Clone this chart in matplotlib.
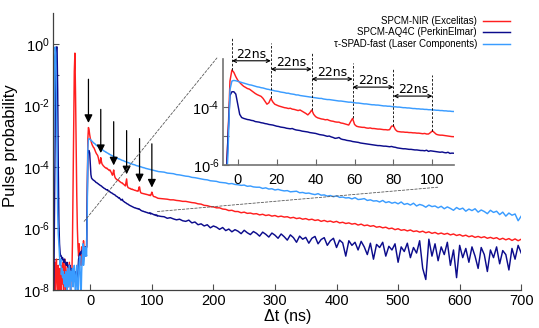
import numpy as np
import matplotlib
matplotlib.use("Agg")
import matplotlib.pyplot as plt
from matplotlib.patches import ConnectionPatch

plt.rcParams['font.family'] = ['Liberation Sans', 'DejaVu Sans']
plt.rcParams['mathtext.fontset'] = 'custom'
plt.rcParams['mathtext.rm'] = 'Liberation Sans'
plt.rcParams['mathtext.it'] = 'Liberation Sans:italic'
plt.rcParams['mathtext.bf'] = 'Liberation Sans:bold'

# time grid (ns): fine before/around the afterpulse peaks, coarser in the tail
t_pre = list(range(-60, -5))
t_mid = list(range(-5, 111))
t_tail = list(range(115, 701, 5))

# log10 of pulse probability
nir_pre = [-7.3, -7.9, -7.1, -8.2, -7.4, -7.0, -7.8, -8.3, -7.2, -7.6, -8.1,
           -7.3, -7.5, -8.4, -7.2, -7.8, -7.1, -8.2, -7.6, -7.0, -7.9, -8.3,
           -7.4, -7.2, -7.9, -7.5, -7.1, -7.7, -8.0, -7.4, -7.6, -6.5, -4.6,
           -2.5, -0.9, -0.3, -1.6, -3.3, -4.9, -6.0, -6.6, -6.9, -6.5, -7.0,
           -6.8, -7.2, -6.6, -6.9, -7.1, -6.4, -6.8, -6.6, -6.9, -6.7, -6.6]
nir_mid = [-5.0, -3.1, -2.72, -2.8, -2.95, -3.07, -3.15, -3.22, -3.28, -3.32,
           -3.36, -3.38, -3.43, -3.48, -3.53, -3.57, -3.6, -3.63, -3.7, -3.8,
           -3.9, -3.85, -3.7, -3.82, -3.9, -3.93, -3.96, -3.98, -4.0, -4.02,
           -4.03, -4.05, -4.04, -4.07, -4.08, -4.1, -4.12, -4.1, -4.14, -4.18,
           -4.22, -4.27, -4.2, -4.1, -4.25, -4.33, -4.37, -4.39, -4.41, -4.42,
           -4.44, -4.43, -4.46, -4.48, -4.49, -4.51, -4.52, -4.52, -4.55, -4.56,
           -4.58, -4.6, -4.62, -4.5, -4.39, -4.6, -4.66, -4.68, -4.69, -4.7,
           -4.7, -4.72, -4.73, -4.72, -4.74, -4.74, -4.75, -4.76, -4.76, -4.77,
           -4.78, -4.78, -4.79, -4.78, -4.66, -4.65, -4.78, -4.84, -4.85, -4.86,
           -4.86, -4.87, -4.87, -4.88, -4.88, -4.89, -4.89, -4.9, -4.9, -4.91,
           -4.92, -4.91, -4.93, -4.93, -4.88, -4.82, -4.88, -4.94, -4.96, -4.97,
           -4.97, -4.98, -4.99, -5.0, -5.01, -5.02]
nir_tail = [-5.03, -5.04, -5.05, -5.07, -5.07, -5.09, -5.1, -5.12, -5.12, -5.14,
            -5.16, -5.17, -5.2, -5.21, -5.25, -5.26, -5.29, -5.3, -5.33, -5.33,
            -5.37, -5.38, -5.42, -5.41, -5.45, -5.45, -5.49, -5.47, -5.51, -5.5,
            -5.53, -5.52, -5.56, -5.54, -5.58, -5.56, -5.6, -5.58, -5.62, -5.6,
            -5.63, -5.62, -5.66, -5.64, -5.68, -5.66, -5.7, -5.68, -5.72, -5.7,
            -5.74, -5.72, -5.77, -5.74, -5.78, -5.76, -5.8, -5.77, -5.82, -5.8,
            -5.84, -5.82, -5.86, -5.84, -5.89, -5.86, -5.91, -5.89, -5.93, -5.91,
            -5.96, -5.94, -5.98, -5.96, -6.01, -5.99, -6.04, -6.01, -6.06, -6.04,
            -6.08, -6.05, -6.1, -6.08, -6.12, -6.09, -6.14, -6.11, -6.16, -6.13,
            -6.18, -6.15, -6.19, -6.16, -6.21, -6.18, -6.23, -6.2, -6.25, -6.22,
            -6.27, -6.24, -6.29, -6.26, -6.3, -6.27, -6.32, -6.29, -6.33, -6.3,
            -6.36, -6.32, -6.37, -6.33, -6.39, -6.34, -6.4, -6.35]

aq4c_pre = [-8.5, -7.5, -5.0, -2.5, -0.5, -0.1, -0.1, -1.5, -4.0, -5.8, -6.5,
            -6.8, -6.9, -6.9, -7.0, -6.95, -7.05, -7.1, -7.0, -7.1, -7.15, -7.2,
            -7.1, -7.2, -7.25, -7.2, -7.3, -7.2, -7.35, -7.3, -7.4, -7.35, -7.45,
            -7.4, -7.5, -7.4, -7.55, -7.6, -7.7, -7.65, -7.3, -7.0, -6.9, -6.8,
            -6.85, -6.75, -6.8, -6.7, -6.75, -6.7, -6.65, -6.7, -6.6, -6.65, -6.6]
aq4c_mid = [-5.0, -3.6, -3.47, -3.47, -3.55, -3.9, -4.25, -4.36, -4.39, -4.41,
            -4.43, -4.44, -4.46, -4.47, -4.5, -4.51, -4.52, -4.54, -4.55, -4.57,
            -4.58, -4.6, -4.61, -4.62, -4.64, -4.66, -4.67, -4.69, -4.7, -4.71,
            -4.73, -4.74, -4.75, -4.74, -4.77, -4.79, -4.8, -4.81, -4.83, -4.84,
            -4.85, -4.86, -4.88, -4.89, -4.9, -4.91, -4.93, -4.95, -4.96, -4.97,
            -4.99, -5.01, -5.0, -5.03, -5.05, -5.08, -5.07, -5.05, -5.1, -5.12,
            -5.13, -5.15, -5.16, -5.17, -5.19, -5.2, -5.21, -5.22, -5.24, -5.25,
            -5.26, -5.27, -5.28, -5.29, -5.3, -5.31, -5.32, -5.33, -5.33, -5.34,
            -5.35, -5.35, -5.36, -5.37, -5.36, -5.38, -5.39, -5.41, -5.42, -5.43,
            -5.44, -5.44, -5.45, -5.46, -5.46, -5.47, -5.48, -5.48, -5.49, -5.5,
            -5.5, -5.51, -5.49, -5.53, -5.51, -5.52, -5.53, -5.54, -5.55, -5.56,
            -5.55, -5.57, -5.58, -5.56, -5.6, -5.59]
aq4c_tail = [-5.61, -5.62, -5.67, -5.65, -5.69, -5.72, -5.7, -5.75, -5.77, -5.73,
             -5.82, -5.79, -5.88, -5.85, -5.92, -5.88, -5.98, -5.92, -5.96, -6.03,
             -5.97, -6.07, -6.02, -6.11, -6.04, -6.09, -6.17, -6.06, -6.14, -6.2,
             -6.1, -6.16, -6.25, -6.12, -6.19, -6.28, -6.15, -6.22, -6.32, -6.18,
             -6.27, -6.38, -6.21, -6.3, -6.45, -6.25, -6.35, -6.29, -6.48, -6.32,
             -6.26, -6.5, -6.36, -6.3, -6.55, -6.4, -6.32, -6.62, -6.38, -6.47,
             -6.9, -6.4, -6.55, -6.45, -6.7, -6.42, -6.6, -6.85, -6.48, -7.0,
             -6.52, -6.62, -6.45, -6.9, -6.58, -6.7, -6.5, -7.1, -6.6, -6.75,
             -6.48, -6.95, -6.62, -6.8, -6.4, -7.3, -7.66, -6.35, -6.9, -6.5,
             -7.05, -6.6, -6.85, -6.45, -7.2, -6.7, -7.6, -6.55, -6.95, -6.65,
             -7.1, -6.6, -6.9, -7.3, -6.62, -6.85, -7.4, -6.7, -6.95, -6.6,
             -7.15, -6.72, -6.85, -7.35, -6.65, -7.0, -6.55, -6.8]

tspad_pre = [-4.8, -2.5, -0.5, -0.1, -0.3, -2.0, -4.0, -5.5, -6.2, -6.5, -6.9,
             -7.2, -7.0, -7.5, -7.3, -7.6, -7.4, -7.8, -7.5, -7.9, -7.4, -7.7,
             -8.2, -7.3, -7.6, -7.9, -7.2, -7.5, -8.1, -7.4, -7.7, -7.3, -7.9,
             -7.6, -7.2, -7.8, -8.3, -7.5, -7.2, -7.9, -8.4, -7.6, -7.1, -6.9,
             -7.8, -8.3, -7.4, -6.9, -6.5, -7.2, -7.0, -6.6, -6.9, -6.8, -6.9]
tspad_mid = [-5.6, -3.4, -3.1, -3.08, -3.09, -3.11, -3.13, -3.15, -3.17, -3.19,
             -3.21, -3.23, -3.24, -3.26, -3.28, -3.3, -3.31, -3.33, -3.34, -3.36,
             -3.38, -3.39, -3.41, -3.42, -3.44, -3.45, -3.46, -3.48, -3.49, -3.5,
             -3.52, -3.52, -3.54, -3.55, -3.56, -3.58, -3.58, -3.6, -3.61, -3.62,
             -3.63, -3.64, -3.65, -3.66, -3.67, -3.68, -3.69, -3.7, -3.7, -3.72,
             -3.73, -3.74, -3.74, -3.75, -3.76, -3.77, -3.78, -3.79, -3.79, -3.8,
             -3.81, -3.82, -3.83, -3.83, -3.84, -3.85, -3.86, -3.86, -3.87, -3.88,
             -3.89, -3.89, -3.9, -3.91, -3.92, -3.92, -3.93, -3.93, -3.94, -3.95,
             -3.96, -3.96, -3.97, -3.97, -3.98, -3.99, -3.99, -4.0, -4.0, -4.01,
             -4.02, -4.02, -4.03, -4.03, -4.04, -4.05, -4.05, -4.06, -4.06, -4.07,
             -4.07, -4.08, -4.08, -4.09, -4.09, -4.1, -4.1, -4.11, -4.11, -4.12,
             -4.12, -4.13, -4.13, -4.14, -4.14, -4.15]
tspad_tail = [-4.16, -4.17, -4.2, -4.21, -4.22, -4.25, -4.26, -4.28, -4.3, -4.31,
              -4.34, -4.35, -4.37, -4.39, -4.41, -4.42, -4.45, -4.46, -4.47, -4.5,
              -4.51, -4.52, -4.55, -4.54, -4.57, -4.58, -4.6, -4.59, -4.63, -4.62,
              -4.65, -4.66, -4.66, -4.7, -4.68, -4.72, -4.71, -4.75, -4.73, -4.76,
              -4.78, -4.77, -4.81, -4.8, -4.79, -4.84, -4.83, -4.86, -4.85, -4.88,
              -4.9, -4.87, -4.92, -4.91, -4.95, -4.93, -4.97, -4.94, -4.99, -4.98,
              -5.01, -5.0, -5.04, -5.0, -5.06, -5.05, -5.03, -5.09, -5.07, -5.11,
              -5.1, -5.14, -5.09, -5.16, -5.13, -5.18, -5.15, -5.2, -5.14, -5.22,
              -5.19, -5.24, -5.18, -5.27, -5.22, -5.25, -5.31, -5.24, -5.29, -5.27,
              -5.33, -5.28, -5.36, -5.3, -5.35, -5.41, -5.32, -5.38, -5.34, -5.44,
              -5.37, -5.42, -5.36, -5.47, -5.4, -5.45, -5.52, -5.41, -5.48, -5.44,
              -5.55, -5.47, -5.6, -5.5, -5.57, -5.53, -5.75, -5.6]

labels = ["SPCM-NIR (Excelitas)", "SPCM-AQ4C (PerkinElmar)", "τ-SPAD-fast (Laser Components)"]
colors = ["#ff1f1f", "#0c0c8c", "#3a9cff"]

# afterpulse peaks of the SPCM-NIR trace (ns)
peak_t = [-3, 17, 38, 59, 80, 100]
gap_label = "22ns"
# annotation heights in the inset (log10)
line_top = [-1.62, -1.78, -2.14, -2.48, -2.66, -2.90]
gap_arrow_y = [-2.40, -2.69, -3.03, -3.31, -3.62]


def pow_label(e):
    # 10^e with a short hyphen for the sign, as in the original
    if e < 0:
        return r'$\mathregular{10^{\text{-}%d}}$' % (-e)
    return r'$\mathregular{10^{%d}}$' % e


t = np.array(t_pre + t_mid + t_tail)
series = [10 ** np.array(nir_pre + nir_mid + nir_tail),
          10 ** np.array(aq4c_pre + aq4c_mid + aq4c_tail),
          10 ** np.array(tspad_pre + tspad_mid + tspad_tail)]
nir = series[0]
peak_v = [nir[list(t).index(p)] for p in peak_t]

fig = plt.figure(figsize=(5.39, 3.28), dpi=100)
ax = fig.add_axes([0.099, 0.116, 0.868, 0.844])

handles = []
for y, c, lab in zip(series, colors, labels):
    h, = ax.plot(t, y, color=c, lw=1.05, label=lab)
    handles.append(h)

ax.set_yscale('log')
ax.set_xlim(-60, 700)
ax.set_ylim(1e-8, 10)
ax.set_xticks(range(0, 701, 100))
ax.set_yticks([10.0 ** e for e in [-8, -6, -4, -2, 0]])
ax.set_yticklabels([pow_label(e) for e in [-8, -6, -4, -2, 0]])
ax.set_yticks([1e-7, 1e-5, 1e-3, 1e-1], minor=True)
ax.yaxis.set_minor_formatter(plt.NullFormatter())
ax.tick_params(which='both', direction='in', length=4, width=0.8, color='0.3',
               labelsize=10.5)
ax.tick_params(axis='y', pad=2.5)
ax.tick_params(axis='x', pad=3)
for s in ['top', 'right']:
    ax.spines[s].set_visible(False)
for s in ['left', 'bottom']:
    ax.spines[s].set_color('0.25')
    ax.spines[s].set_linewidth(0.9)

ax.set_ylabel('Pulse probability', fontsize=12)
ax.yaxis.set_label_coords(-0.076, 0.52)
ax.set_xlabel('Δt (ns)', fontsize=11.5)
ax.xaxis.set_label_coords(0.5, -0.07)

# arrows pointing at the afterpulse peaks
for p, v in zip(peak_t, peak_v):
    ax.annotate('', xy=(p, v * 10 ** 0.15), xytext=(p, v * 10 ** 1.57),
                arrowprops=dict(arrowstyle='-|>', color='k', lw=0.9,
                                mutation_scale=12, shrinkA=0, shrinkB=0))

ax.legend(handles, labels, loc='upper right', bbox_to_anchor=(510 / 539, 1 - 16 / 328),
          bbox_transform=fig.transFigure, frameon=False, markerfirst=False,
          fontsize=7, handlelength=2.8, handletextpad=0.6, labelspacing=0.15,
          borderpad=0, borderaxespad=0)

# inset
axin = fig.add_axes([0.414, 0.497, 0.428, 0.323])
for y, c in zip(series, colors):
    axin.plot(t, y, color=c, lw=1.05)
axin.set_yscale('log')
axin.set_xlim(-7.5, 111)
axin.set_ylim(1e-6, 10 ** -2.34)
axin.set_xticks(range(0, 101, 20))
axin.set_yticks([1e-6, 1e-4])
axin.set_yticklabels([pow_label(-6), pow_label(-4)])
axin.set_yticks([1e-5], minor=True)
axin.yaxis.set_minor_formatter(plt.NullFormatter())
axin.tick_params(which='both', direction='in', length=4, width=0.8, color='0.4',
                 labelsize=10.5)
axin.tick_params(axis='x', pad=6)
axin.tick_params(axis='y', pad=2.5)
for s in ['top', 'right']:
    axin.spines[s].set_visible(False)
for s in ['left', 'bottom']:
    axin.spines[s].set_color('0.45')
    axin.spines[s].set_linewidth(1.2)

for p, v, top in zip(peak_t, peak_v, line_top):
    axin.plot([p, p], [v, 10 ** top], ls=(0, (3, 2)), color='k', lw=0.6, clip_on=False)
for i, ya in enumerate(gap_arrow_y):
    axin.annotate('', xy=(peak_t[i], 10 ** ya), xytext=(peak_t[i + 1], 10 ** ya),
                  arrowprops=dict(arrowstyle='<->', color='k', lw=0.8,
                                  mutation_scale=6, shrinkA=0, shrinkB=0),
                  annotation_clip=False)
    axin.text((peak_t[i] + peak_t[i + 1]) / 2, 10 ** ya, gap_label, ha='center',
              va='bottom', fontsize=9, family='DejaVu Sans')

# zoom connector lines
for xa, xb in [((-10, 10 ** -5.77), (-0.027, 1.01)), ((109, 10 ** -5.45), (0.93, -0.21))]:
    con = ConnectionPatch(xyA=xa, coordsA=ax.transData, xyB=xb, coordsB=axin.transAxes,
                          ls=(0, (3, 2)), color='0.35', lw=0.6)
    fig.add_artist(con)

fig.savefig('out.png', dpi=100)
